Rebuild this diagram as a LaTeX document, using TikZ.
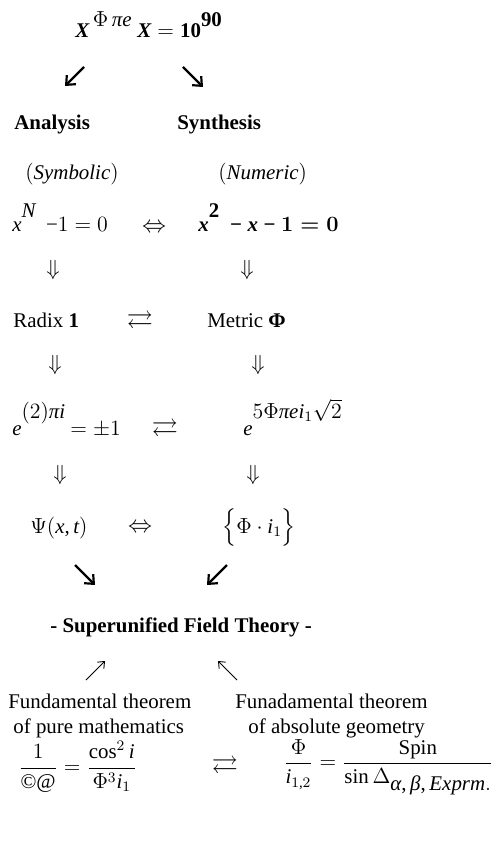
\documentclass[tikz,border=0pt]{standalone}
\usepackage{amsmath,amssymb}
\usepackage{fontspec}
\setmainfont{Liberation Serif}
\usetikzlibrary{arrows.meta}

% Times-like maths: letters, digits and Greek from the text face
\edef\tfam{\rmdefault}
\DeclareSymbolFont{tletters}{TU}{\tfam}{m}{it}
\SetSymbolFont{tletters}{bold}{TU}{\tfam}{b}{it}
\DeclareSymbolFont{tupright}{TU}{\tfam}{m}{n}
\SetSymbolFont{tupright}{bold}{TU}{\tfam}{b}{n}
\makeatletter
\count@=`a \loop \Umathcode\count@="7 \symtletters\count@ \ifnum\count@<`z \advance\count@\@ne\repeat
\count@=`A \loop \Umathcode\count@="7 \symtletters\count@ \ifnum\count@<`Z \advance\count@\@ne\repeat
\count@=`0 \loop \Umathcode\count@="7 \symtupright\count@ \ifnum\count@<`9 \advance\count@\@ne\repeat
\makeatother
\Umathcode`\= ="3 \symtupright `\=
\Umathcode`\- ="2 \symtupright "2212
\Umathcode`\( ="4 \symtupright `\(
\Umathcode`\) ="5 \symtupright `\)
\Umathcode`\, ="6 \symtupright `\,
\Umathchardef\Phi="0 \symtupright "03A6
\Umathchardef\Psi="0 \symtupright "03A8
\Umathchardef\Delta="0 \symtupright "0394
\Umathchardef\pi="0 \symtletters "03C0
\Umathchardef\alpha="0 \symtletters "03B1
\Umathchardef\beta="0 \symtletters "03B2

% raised full-size exponent, lowered full-size index
\newcommand{\hisup}[2]{\raisebox{#1}{$#2$}}
\newcommand{\losub}[1]{\raisebox{-0.7ex}{$#1$}}

\begin{document}
\begin{tikzpicture}[x=0.55pt, y=-0.55pt,
    every node/.style={inner sep=0pt, anchor=base west, font=\fontsize{11.5}{14}\selectfont},
    glyph/.style={anchor=center},
    swap/.style={anchor=center, scale=1.25},
    iff/.style={anchor=center, scale=1.1},
    boldarrow/.style={-{Straight Barb[length=4pt, width=7pt]}, line width=1.2pt},
    thinarrow/.style={-{Straight Barb[length=3pt, width=5pt]}, line width=0.5pt}]
    \useasboundingbox (0,0) rectangle (494,841);

    % 1. top formula and split
    \node (head) at (75,38) {$\boldsymbol{X}$\,\hisup{1.2ex}{\Phi\,\pi e}\;$\boldsymbol{X} = \mathbf{10}$\hisup{1.2ex}{\mathbf{90}}};
    \coordinate (splitLs) at (84,67);
    \coordinate (splitLe) at (65,86);
    \coordinate (splitRs) at (183,67);
    \coordinate (splitRe) at (203,87);
    \draw[boldarrow] (splitLs) -- (splitLe);
    \draw[boldarrow] (splitRs) -- (splitRe);

    \node (ana) at (14,130) {\textbf{Analysis}};
    \node (syn) at (177,130) {\textbf{Synthesis}};
    \node (symb) at (25,180) {$(\mathit{Symbolic})$};
    \node (num) at (218,180) {$(\mathit{Numeric})$};

    % 2. left column
    \node (eqL) at (12,232) {$x$\hisup{1.5ex}{N}\ \ $-1 = 0$};
    \node[glyph] (dnL1) at (53,270) {$\Downarrow$};
    \node (radix) at (13,328) {Radix \textbf{1}};
    \node[glyph] (dnL2) at (55,365) {$\Downarrow$};
    \node (euler) at (12,435) {$e$\hisup{1.7ex}{(2)\pi i}\ $= \pm 1$};
    \node[glyph] (dnL3) at (60,475) {$\Downarrow$};
    \node (psi) at (30,533) {$\Psi(x,t)$};

    % 3. right column
    \node (eqR) at (198,232) {$\boldsymbol{x}$\hisup{1.5ex}{\mathbf{2}}\ $\boldsymbol{{}- x - 1 = 0}$};
    \node[glyph] (dnR1) at (247,270) {$\Downarrow$};
    \node (metric) at (207,328) {Metric \textbf{Φ}};
    \node[glyph] (dnR2) at (258,365) {$\Downarrow$};
    \node (expo) at (243,435) {$e$\hisup{1.7ex}{5\Phi\pi e i_1\sqrt{2}}};
    \node[glyph] (dnR3) at (253,475) {$\Downarrow$};
    \node (phiset) at (222,533) {$\Bigl\{\Phi\cdot i_1\Bigr\}$};

    % 4. links between columns
    \node[iff] (iffA) at (154,228) {$\Leftrightarrow$};
    \node[swap] (rlA) at (140,322) {$\rightleftarrows$};
    \node[swap] (rlB) at (165,430) {$\rightleftarrows$};
    \node[iff] (iffB) at (140,528) {$\Leftrightarrow$};

    % 5. merge into the theory
    \coordinate (mergeLs) at (75,565);
    \coordinate (mergeLe) at (95,585);
    \coordinate (mergeRs) at (227,565);
    \coordinate (mergeRe) at (207,585);
    \draw[boldarrow] (mergeLs) -- (mergeLe);
    \draw[boldarrow] (mergeRs) -- (mergeRe);
    \node (theory) at (50,632) {\textbf{- Superunified Field Theory -}};

    \coordinate (upLs) at (86,680);
    \coordinate (upLe) at (105,661);
    \coordinate (upRs) at (237,680);
    \coordinate (upRe) at (218,661);
    \draw[thinarrow] (upLs) -- (upLe);
    \draw[thinarrow] (upRs) -- (upRe);

    \node (fundA) at (8,708) {Fundamental theorem};
    \node (fundB) at (13,733) {of pure mathematics};
    \node (fundC) at (235,708) {Funadamental theorem};
    \node (fundD) at (248,733) {of absolute geometry};

    % 6. closing identities
    \node[anchor=west] (identL) at (18,767) {$\dfrac{1}{\text{©@}} = \dfrac{\cos^2 i}{\Phi^3 i_1}$};
    \node[swap] (rlC) at (225,767) {$\rightleftarrows$};
    \node[anchor=west] (identR) at (283,767) {$\dfrac{\Phi}{i_{1,2}} = \dfrac{\text{Spin}}{\sin\Delta\losub{\alpha,\beta,\mathit{Exprm.}}}$};
\end{tikzpicture}
\end{document}
